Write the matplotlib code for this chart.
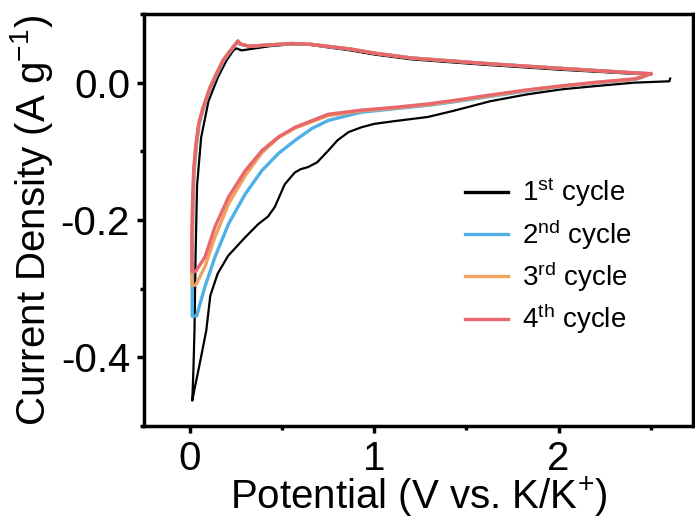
import matplotlib
matplotlib.use("Agg")
import matplotlib.pyplot as plt
from matplotlib.ticker import MultipleLocator

plt.rcParams['font.family'] = ['Liberation Sans', 'DejaVu Sans']
plt.rcParams['mathtext.fontset'] = 'custom'
plt.rcParams['mathtext.rm'] = 'Liberation Sans'
plt.rcParams['mathtext.it'] = 'Liberation Sans:italic'
plt.rcParams['mathtext.bf'] = 'Liberation Sans:bold'

# cycle 1 (starts at OCV, goes cathodic, then back anodic)
x1 = [2.606, 2.602, 2.41, 2.2, 2.02, 1.83, 1.63, 1.43, 1.29, 1.11, 1.0, 0.93, 0.86, 0.80,
      0.75, 0.69, 0.64, 0.60, 0.568, 0.514, 0.46, 0.423, 0.37, 0.30, 0.207, 0.15, 0.11,
      0.088, 0.052, 0.025, 0.012, 0.018, 0.024, 0.03, 0.038, 0.06, 0.1, 0.15, 0.197,
      0.235, 0.251, 0.28, 0.33, 0.43, 0.55, 0.65, 0.87, 1.0, 1.2, 1.6, 2.0, 2.4, 2.48]
y1 = [0.006, 0.002, 0.0, -0.005, -0.0096, -0.017, -0.027, -0.041, -0.050, -0.056, -0.060,
      -0.065, -0.072, -0.084, -0.099, -0.116, -0.123, -0.126, -0.131, -0.148, -0.181,
      -0.195, -0.206, -0.225, -0.252, -0.278, -0.31, -0.361, -0.41, -0.445, -0.463, -0.42,
      -0.361, -0.25, -0.15, -0.08, -0.027, 0.007, 0.032, 0.047, 0.050, 0.047, 0.049,
      0.053, 0.056, 0.055, 0.047, 0.041, 0.034, 0.026, 0.019, 0.013, 0.012]

# cycles 2-4: closed loops starting at 2.5 V
x2 = [2.5, 2.45, 2.41, 2.2, 2.02, 1.83, 1.63, 1.43, 1.29, 1.11, 0.93, 0.75, 0.66, 0.57,
      0.48, 0.39, 0.30, 0.21, 0.135, 0.081, 0.035, 0.012, 0.012, 0.016, 0.022, 0.035,
      0.05, 0.073, 0.11, 0.147, 0.182, 0.22, 0.255, 0.27, 0.32, 0.43, 0.55, 0.65, 0.87,
      1.0, 1.2, 1.6, 2.0, 2.4, 2.5]
y2 = [0.013, 0.0075, 0.0045, -0.0005, -0.0055, -0.012, -0.02, -0.028, -0.033, -0.038,
      -0.043, -0.055, -0.067, -0.084, -0.103, -0.128, -0.162, -0.205, -0.254, -0.297,
      -0.34, -0.34, -0.25, -0.18, -0.13, -0.09, -0.06, -0.037, -0.008, 0.013, 0.032,
      0.046, 0.058, 0.056, 0.053, 0.055, 0.057, 0.056, 0.049, 0.043, 0.036, 0.028, 0.021,
      0.0145, 0.013]

x3 = [2.5, 2.45, 2.41, 2.2, 2.02, 1.83, 1.63, 1.43, 1.29, 1.11, 0.93, 0.75, 0.57, 0.48,
      0.39, 0.30, 0.21, 0.135, 0.081, 0.03, 0.01, 0.01, 0.014, 0.02, 0.032, 0.047, 0.07,
      0.107, 0.143, 0.178, 0.216, 0.258, 0.27, 0.32, 0.43, 0.55, 0.65, 0.87, 1.0, 1.2,
      1.6, 2.0, 2.4, 2.5]
y3 = [0.013, 0.008, 0.005, 0.0, -0.005, -0.011, -0.019, -0.027, -0.032, -0.037, -0.041,
      -0.048, -0.066, -0.08, -0.102, -0.135, -0.176, -0.225, -0.268, -0.295, -0.295,
      -0.24, -0.18, -0.13, -0.09, -0.06, -0.037, -0.008, 0.013, 0.032, 0.046, 0.060,
      0.057, 0.053, 0.055, 0.057, 0.056, 0.049, 0.043, 0.036, 0.028, 0.021, 0.0145,
      0.013]

x4 = [2.5, 2.45, 2.41, 2.2, 2.02, 1.83, 1.63, 1.43, 1.29, 1.11, 0.93, 0.75, 0.57, 0.48,
      0.39, 0.30, 0.21, 0.135, 0.081, 0.03, 0.01, 0.01, 0.014, 0.02, 0.032, 0.047, 0.07,
      0.107, 0.143, 0.178, 0.216, 0.26, 0.275, 0.323, 0.43, 0.55, 0.65, 0.87, 1.0, 1.2,
      1.6, 2.0, 2.4, 2.5]
y4 = [0.013, 0.008, 0.0055, 0.0005, -0.0045, -0.0105, -0.018, -0.026, -0.031, -0.036,
      -0.040, -0.046, -0.065, -0.079, -0.099, -0.128, -0.166, -0.21, -0.254, -0.275,
      -0.275, -0.22, -0.17, -0.125, -0.09, -0.06, -0.037, -0.008, 0.013, 0.032, 0.046,
      0.061, 0.056, 0.053, 0.055, 0.057, 0.056, 0.049, 0.043, 0.036, 0.028, 0.021,
      0.0145, 0.013]

labels = ['1$^{\\mathrm{st}}$ cycle', '2$^{\\mathrm{nd}}$ cycle',
          '3$^{\\mathrm{rd}}$ cycle', '4$^{\\mathrm{th}}$ cycle']
colors = ['black', '#4FB0E5', '#F0A35E', '#E8676B']

fig = plt.figure(figsize=(6.95, 5.2), dpi=100)
ax = fig.add_axes([144 / 695, 1 - 426 / 520, (693 - 144) / 695, (426 - 14) / 520])

ax.plot(x1, y1, color=colors[0], lw=1.6, label=labels[0])
ax.plot(x2, y2, color=colors[1], lw=2.4, label=labels[1])
ax.plot(x3, y3, color=colors[2], lw=2.4, label=labels[2])
ax.plot(x4, y4, color=colors[3], lw=2.4, label=labels[3])

ax.set_xlim(-0.25, 2.73)
ax.set_ylim(-0.5, 0.1)
ax.xaxis.set_major_locator(MultipleLocator(1))
ax.xaxis.set_minor_locator(MultipleLocator(0.5))
ax.yaxis.set_major_locator(MultipleLocator(0.2))
ax.yaxis.set_minor_locator(MultipleLocator(0.1))
ax.yaxis.set_major_formatter(plt.FuncFormatter(lambda v, p: f"{v:.1f}".replace("−", "-")))

for s in ax.spines.values():
    s.set_linewidth(2.5)
ax.tick_params(which='major', direction='out', length=5, width=2.5, labelsize=29, pad=5)
ax.tick_params(which='minor', direction='out', length=3, width=2.5)

ax.set_xlabel('Potential (V vs. K/K$^{\\mathrm{+}}$)', fontsize=29, labelpad=-2)
ax.set_ylabel('Current Density (A g$^{\\mathrm{-1}}$)', fontsize=29, labelpad=4)

leg = ax.legend(loc='center left', bbox_to_anchor=(454 / 695, 1 - 256 / 520),
                bbox_transform=fig.transFigure, frameon=False, fontsize=20,
                handlelength=1.55, handletextpad=0.5, borderaxespad=0,
                labelspacing=0.28)
for line in leg.get_lines():
    line.set_linewidth(2.4)

fig.savefig('out.png', dpi=100)
